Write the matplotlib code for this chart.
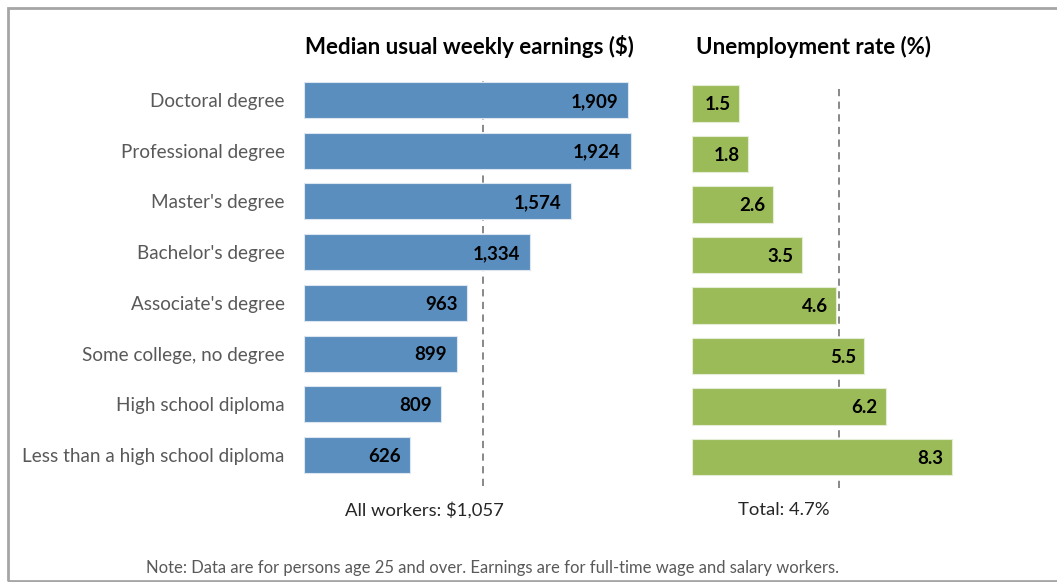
import matplotlib.pyplot as plt
from matplotlib.patches import Rectangle

categories = [
    "Doctoral degree",
    "Professional degree",
    "Master's degree",
    "Bachelor's degree",
    "Associate's degree",
    "Some college, no degree",
    "High school diploma",
    "Less than a high school diploma",
]
earnings = [1909, 1924, 1574, 1334, 963, 899, 809, 626]
unemployment = [1.5, 1.8, 2.6, 3.5, 4.6, 5.5, 6.2, 8.3]
all_workers_earnings = 1057
total_unemployment = 4.7

BLUE = "#5A8EBE"
GREEN = "#9BBB59"
LABEL_GREY = "#595959"
FONT = ["Lato", "DejaVu Sans"]

plt.rcParams["font.family"] = FONT

W, H = 1057, 582
fig = plt.figure(figsize=(W / 100, H / 100), dpi=100)


def px_axes(left, top, width, height):
    return fig.add_axes([left / W, 1 - (top + height) / H, width / W, height / H])


ypos = list(range(len(categories)))

# === Left panel: earnings ===
ax1 = px_axes(304, 80.7, 339.4, 405.7)
ax1.axvline(all_workers_earnings, color="#7F7F7F", lw=1.3, ls=(0, (4, 3)), zorder=1)
ax1.barh(ypos, earnings, height=0.71, color=BLUE, edgecolor="#DCE6F0", lw=0.8, zorder=2)
ax1.set_xlim(0, 2000)
ax1.set_ylim(7.62, -0.38)
ax1.set_yticks(ypos)
ax1.set_yticklabels(categories, fontsize=13.6, color=LABEL_GREY)
ax1.tick_params(axis="y", length=0, pad=14)
ax1.set_xticks([])
for s in ax1.spines.values():
    s.set_visible(False)
for y, v in zip(ypos, earnings):
    ax1.annotate(f"{v:,}", (v, y), xytext=(-7, -1), textcoords="offset points",
                 ha="right", va="center", fontsize=13.5, fontweight="bold", color="black")

# === Right panel: unemployment ===
ax2 = px_axes(692, 84.3, 313, 404)
ax2.axvline(total_unemployment, color="#7F7F7F", lw=1.3, ls=(0, (4, 3)), zorder=1)
ax2.barh(ypos, unemployment, height=0.73, color=GREEN, edgecolor="#E4EDD5", lw=0.8, zorder=2)
ax2.set_xlim(0, 10)
ax2.set_ylim(7.62, -0.38)
ax2.set_yticks([])
ax2.set_xticks([])
for s in ax2.spines.values():
    s.set_visible(False)
for y, v in zip(ypos, unemployment):
    ax2.annotate(f"{v:.1f}", (v, y), xytext=(-6, -1), textcoords="offset points",
                 ha="right", va="center", fontsize=13.5, fontweight="bold", color="black")

fig.text(469 / W, 1 - 47 / H, "Median usual weekly earnings ($)", ha="center", va="center",
         fontsize=16, fontweight="bold", color="black")
fig.text(813 / W, 1 - 47 / H, "Unemployment rate (%)", ha="center", va="center",
         fontsize=16, fontweight="bold", color="black")
fig.text(424 / W, 1 - 510 / H, f"All workers: ${all_workers_earnings:,}", ha="center",
         va="center", fontsize=13.3, color="#262626")
fig.text(784 / W, 1 - 510 / H, f"Total: {total_unemployment}%", ha="center",
         va="center", fontsize=13.3, color="#262626")
fig.text(492 / W, 1 - 568 / H,
         "Note: Data are for persons age 25 and over. Earnings are for full-time wage and salary workers.",
         ha="center", va="center", fontsize=12, color=LABEL_GREY)

# outer frame (right edge falls outside the picture)
fig.patches.append(Rectangle((7.5 / W, 1 - 580.5 / H), 1.2, 573 / H, transform=fig.transFigure,
                             fill=False, edgecolor="#A6A6A6", lw=2))

fig.savefig("out.png", dpi=100)
